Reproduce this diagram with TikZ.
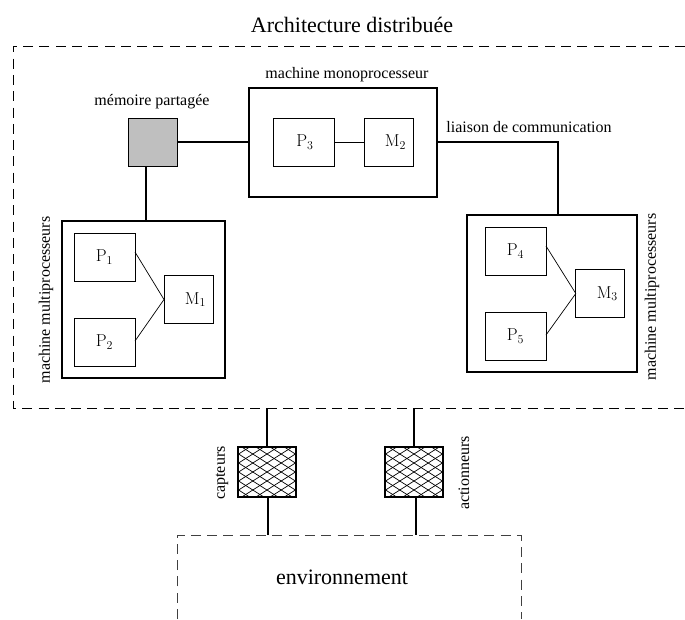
\documentclass[tikz,border=0pt]{standalone}
\usepackage[no-math]{fontspec}
\setmainfont{Liberation Serif}
\tikzset{
  thinbox/.style={draw,line width=.8pt,inner sep=0pt,outer sep=0pt,fill=white,font=\fontsize{17}{17}\selectfont,text=black},
  procbox/.style={thinbox,minimum width=61pt,minimum height=48pt},
  membox/.style={thinbox,minimum width=49pt,minimum height=48pt},
  bigbox/.style={draw,line width=1.8pt,inner sep=0pt,outer sep=0pt},
  link/.style={line width=1.7pt},
  wire/.style={line width=.7pt},
  edge/.style={dash pattern=on 10pt off 6.3pt,line width=.7pt},
  lab/.style={inner sep=0pt,font=\fontsize{16}{16}\selectfont},
  hatched/.style={bigbox,minimum width=57.5pt,minimum height=50pt,path picture={
    \foreach \k in {-8,...,8}{
      \draw[line width=.7pt] ([xshift=\k*14.2pt]path picture bounding box.center) ++(-40pt,25.35pt) -- ++(80pt,-50.7pt);
      \draw[line width=.7pt] ([xshift=\k*14.2pt]path picture bounding box.center) ++(-40pt,-25.35pt) -- ++(80pt,50.7pt);
    }}},
}
\begin{document}
\begin{tikzpicture}[x=1pt,y=-1pt]
\useasboundingbox (0,0) rectangle (685,619);
\node[lab,font=\fontsize{22}{22}\selectfont] (title) at (352,25) {Architecture distribuée};
\coordinate (o1) at (685,46);
\coordinate (o2) at (13,46);
\coordinate (o3) at (13,408);
\coordinate (o4) at (685,408);
\draw[edge] (o1) -- (o2) -- (o3) -- (o4);
\node[thinbox,fill=black!25,minimum width=49pt,minimum height=48pt] (mem) at (152.5,142) {};
\node[bigbox,minimum width=188pt,minimum height=109pt] (mono) at (343,142.5) {};
\node[procbox] (P3) at (303.5,142) {\hspace*{3pt}$\mathrm{P}_3$};
\node[membox] (M2) at (388.5,142) {\hspace*{14pt}$\mathrm{M}_2$};
\node[bigbox,minimum width=163pt,minimum height=157pt] (mleft) at (143.5,299.5) {};
\node[procbox] (P1) at (104.5,257) {$\mathrm{P}_1$};
\node[procbox] (P2) at (104.5,342) {$\mathrm{P}_2$};
\node[membox] (M1) at (188.5,299.5) {\hspace*{14pt}$\mathrm{M}_1$};
\node[bigbox,minimum width=170pt,minimum height=157pt] (mright) at (552,293.5) {};
\node[procbox] (P4) at (515.5,251) {$\mathrm{P}_4$};
\node[procbox] (P5) at (515.5,336) {$\mathrm{P}_5$};
\node[membox] (M3) at (600.3,293.5) {\hspace*{14pt}$\mathrm{M}_3$};
\draw[wire] (P3) -- (M2);
\draw[wire] ([yshift=5pt]P1.east) -- (M1.west);
\draw[wire] ([yshift=1pt]P2.east) -- (M1.west);
\draw[wire] ([yshift=5pt]P4.east) -- (M3.west);
\draw[wire] ([yshift=1pt]P5.east) -- (M3.west);
\draw[link] (mem.east) -- (mono.west |- mem.east);
\draw[link] ([xshift=-6.5pt]mem.south) -- ([xshift=-6.5pt]mem.south |- mleft.north);
\coordinate (lk) at (558,215);
\draw[link] (mono.east |- M2.east) -- (lk |- M2.east) -- (lk |- mright.north);
\node[hatched] (capt) at (267,472) {};
\node[hatched] (act) at (414,472) {};
\coordinate (c1) at (267,408);
\coordinate (a1) at (414,408);
\coordinate (envtl) at (177,535);
\coordinate (envtr) at (521,535);
\coordinate (envbl) at (177,619);
\coordinate (envbr) at (521,619);
\draw[edge,black!75] (envbl) -- (envtl) -- (envtr) -- (envbr);
\draw[link] (c1) -- (capt.north);
\draw[link] (a1) -- (act.north);
\draw[link] ([xshift=1pt]capt.south) -- ([xshift=1pt]capt.south |- envtl);
\draw[link] ([xshift=2pt]act.south) -- ([xshift=2pt]act.south |- envtl);
\node[lab,font=\fontsize{22}{22}\selectfont] (env) at (342,577) {environnement};
\node[lab] (lmem) at (152,102) {mémoire partagée};
\node[lab] (lmono) at (347,75) {machine monoprocesseur};
\node[lab] (lliais) at (529,127) {liaison de communication};
\node[lab,rotate=90] (lml) at (46,300) {machine multiprocesseurs};
\node[lab,rotate=90] (lmr) at (652,297) {machine multiprocesseurs};
\node[lab,rotate=90] (lc) at (222,473) {capteurs};
\node[lab,rotate=90] (la) at (464,473) {actionneurs};
\end{tikzpicture}
\end{document}
